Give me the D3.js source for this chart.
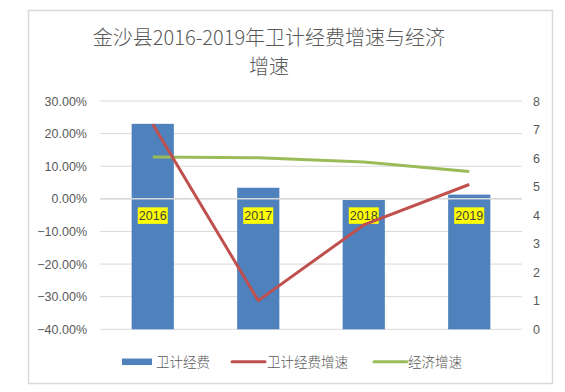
<!DOCTYPE html>
<html><head><meta charset="utf-8">
<script src="https://cdn.jsdelivr.net/npm/d3@7"></script>
<style>body{margin:0;background:#fff;}svg{display:block;font-family:"Noto Sans CJK SC",sans-serif;}</style>
</head><body><svg id="c" width="565" height="392"></svg>
<script>
const categories = ["2016","2017","2018","2019"];
const funding = [7.2, 4.96, 4.53, 4.72];            // 卫计经费 (right axis)
const fundingGrowth = [0.229, -0.312, -0.08, 0.044]; // 卫计经费增速 (left axis)
const econGrowth = [0.128, 0.126, 0.113, 0.084];     // 经济增速 (left axis)
const leftTicks = [0.3,0.2,0.1,0,-0.1,-0.2,-0.3,-0.4];
const rightTicks = [0,1,2,3,4,5,6,7,8];
const seriesNames = ["卫计经费","卫计经费增速","经济增速"];
const titleLines = ["金沙县2016-2019年卫计经费增速与经济","增速"];

const numFont = "'Liberation Sans',Arial,sans-serif";
const svg = d3.select("#c");
svg.append("rect").attr("x",28.5).attr("y",10.5).attr("width",524).attr("height",373)
  .attr("fill","#fff").attr("stroke","#d9d9d9").attr("stroke-width",1.5);

const L=100, R=522, T=101, B=329.3;
const x = d3.scaleBand().domain(categories).range([L,R]).paddingInner(0.6).paddingOuter(0.3);
const xc = d => x(d)+x.bandwidth()/2;
const yL = d3.scaleLinear().domain([-0.4,0.3]).range([B,T]);
const yR = d3.scaleLinear().domain([0,8]).range([B,T]);

// title
const tg = svg.append("g").attr("font-size",20).attr("fill","#595959").attr("font-weight",300).attr("text-anchor","middle");
tg.append("text").attr("x",269).attr("y",44.5).text(titleLines[0]);
tg.append("text").attr("x",269).attr("y",73.5).text(titleLines[1]);

// gridlines
svg.append("g").selectAll("line").data(leftTicks).join("line")
  .attr("x1",L).attr("x2",R).attr("y1",d=>yL(d)).attr("y2",d=>yL(d))
  .attr("stroke","#d9d9d9").attr("stroke-width",1);

// left axis
const la = svg.append("g").attr("transform",`translate(${L},0)`)
  .call(d3.axisLeft(yL).tickValues(leftTicks).tickFormat(d3.format(".2%")).tickSize(0).tickPadding(13));
la.select(".domain").remove();
la.selectAll("text").attr("font-size",12.5).attr("fill","#595959").style("font-family",numFont);

// right axis
const ra = svg.append("g").attr("transform",`translate(${R},0)`)
  .call(d3.axisRight(yR).tickValues(rightTicks).tickSize(0).tickPadding(11));
ra.select(".domain").remove();
ra.selectAll("text").attr("font-size",12.5).attr("fill","#595959").style("font-family",numFont);

// bars
svg.append("g").selectAll("rect").data(funding).join("rect")
  .attr("x",(d,i)=>x(categories[i])).attr("width",x.bandwidth())
  .attr("y",d=>yR(d)).attr("height",d=>yR(0)-yR(d)).attr("fill","#4f81bd");

// zero line on top
svg.append("line").attr("x1",L).attr("x2",R).attr("y1",yL(0)).attr("y2",yL(0))
  .attr("stroke","#d9d9d9").attr("stroke-width",1.5);

// category labels
const cl = svg.append("g").selectAll("g").data(categories).join("g")
  .attr("transform",d=>`translate(${xc(d)},${yL(0)+17})`);
cl.append("rect").attr("x",-15).attr("y",-8.5).attr("width",30).attr("height",16.5).attr("fill","#ffff00");
cl.append("text").attr("text-anchor","middle").attr("dy","0.36em").attr("font-size",12.5)
  .attr("fill","#404040").style("font-family",numFont).text(d=>d);

// lines
const line = d3.line().x((d,i)=>xc(categories[i])).y(d=>yL(d));
svg.append("path").datum(econGrowth).attr("d",line).attr("fill","none")
  .attr("stroke","#9bbb59").attr("stroke-width",3).attr("stroke-linejoin","round");
svg.append("path").datum(fundingGrowth).attr("d",line).attr("fill","none")
  .attr("stroke","#c0504d").attr("stroke-width",3).attr("stroke-linejoin","round");

// legend
const lg = svg.append("g");
lg.append("rect").attr("x",122).attr("y",358.5).attr("width",30).attr("height",6.5).attr("fill","#4f81bd");
lg.append("line").attr("x1",232).attr("x2",265).attr("y1",361.7).attr("y2",361.7).attr("stroke","#c0504d").attr("stroke-width",3).attr("stroke-linecap","round");
lg.append("line").attr("x1",374).attr("x2",407).attr("y1",361.7).attr("y2",361.7).attr("stroke","#9bbb59").attr("stroke-width",3).attr("stroke-linecap","round");
[[156,0],[267,1],[408,2]].forEach(([px,i])=>{
  lg.append("text").attr("x",px).attr("y",362).attr("dy","0.35em").attr("font-size",13.5)
    .attr("font-weight",300).attr("fill","#595959").text(seriesNames[i]);
});
</script></body></html>
